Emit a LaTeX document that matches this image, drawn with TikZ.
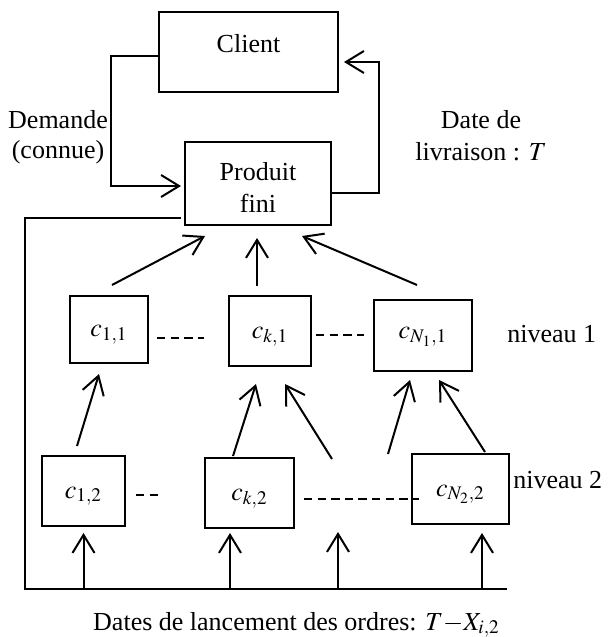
\documentclass[tikz,border=0pt]{standalone}
\usepackage{mathptmx}
\usepackage[no-math]{fontspec}
\setmainfont{Liberation Serif}
\usetikzlibrary{calc, arrows.meta}

\tikzset{
	box/.style = {draw, line width = 1pt, inner sep = 0pt},
	cbox/.style = {box, text height = 8pt, text depth = 1pt},
	arr/.style = {-{Straight Barb[length = 9pt, width = 11pt]}, line width = 1pt},
	dashline/.style = {line width = 1pt, dash pattern = on 4.2pt off 2.6pt},
}

\begin{document}
\begin{tikzpicture}[x = 0.5pt, y = -0.5pt, font = \fontsize{13}{16}\selectfont]
		\useasboundingbox (0,0) rectangle (607,637);
		
		\node [box, minimum width = 89.5pt, minimum height = 40pt, text height = 9pt, text depth = 9pt] (client) at (248.5,52) {Client};
		\node [box, minimum width = 73pt, minimum height = 41.5pt, align = center] (produit) at (258,183.5) {\rule{0pt}{13pt}Produit\\fini};
		
		\node [cbox, minimum width = 39pt, minimum height = 33.5pt] (c11) at (109,329.5) {$c_{1,1}$};
		\node [cbox, minimum width = 41pt, minimum height = 35pt] (ck1) at (270,331) {$c_{k,1}$};
		\node [cbox, minimum width = 49pt, minimum height = 35.5pt, text height = 6pt, text depth = 3pt] (cN1) at (423,335.5) {$c_{N_1,1}$};
		\node [cbox, minimum width = 41.5pt, minimum height = 35pt] (c12) at (83.5,491) {$c_{1,2}$};
		\node [cbox, minimum width = 44.5pt, minimum height = 35pt] (ck2) at (249.5,493) {$c_{k,2}$};
		\node [cbox, minimum width = 48.5pt, minimum height = 35pt] (cN2) at (460.5,489) {$c_{N_2,2}$};
		
		\node [anchor = base west, inner sep = 0pt] (niveau1) at (507,342) {niveau 1};
		\node [anchor = base west, inner sep = 0pt] (niveau2) at (513,488) {niveau 2};
		\node [align = center, inner sep = 0pt] (demande) at (58,137) {Demande\\[-1pt](connue)};
		\node [align = center, inner sep = 0pt] (livraison) at (481,136) {Date de\\livraison : $T$};
		\node [anchor = base, inner sep = 0pt] (lancement) at (296.5,630) {Dates de lancement des ordres: $T{-}X_{i,2}$};
		
		\coordinate (bus left) at (25,589);
		\coordinate (bus right) at (507,589);
		\coordinate (free1) at (332,459);
		\coordinate (free2) at (388,454);
		\coordinate (tip1) at ($(c12.south)+(0,6)$);
		\coordinate (tip2) at ($(ck2.south)+(-19.5,4)$);
		\coordinate (tip3) at (338,532);
		\coordinate (tip4) at ($(cN2.south)+(21.5,8)$);
		
		% client <-> produit fini
		\draw [arr] ($(client.west)+(0,4)$) -- ++(-47,0) |- ($(produit.west)+(-3,2.5)$);
		\draw [arr] ($(produit.east)+(0,9.5)$) -- ++(47,0) |- ($(client.east)+(5,10)$);
		\draw [line width = 1pt] ($(produit.south west)+(-3,-8)$) -| (bus left) -- (bus right);
		
		% niveau 1
		\draw [arr] ($(c11.north)+(3,-10)$) -- ($(produit.south)+(-53,10)$);
		\draw [arr] ($(ck1.north)+(-13,-9)$) -- ($(produit.south)+(-1,12)$);
		\draw [arr] ($(cN1.north)+(-6,-14)$) -- ($(produit.south)+(44,10)$);
		\draw [dashline] ($(c11.east)+(8,8.5)$) -- ($(ck1.west)+(-24,7)$);
		\draw [dashline] ($(ck1.east)+(4,4)$) -- ($(cN1.west)+(-9,-0.5)$);
		
		% niveau 2
		\draw [arr] ($(c12.north)+(-6.5,-9)$) -- ($(c11.south)+(-10,10)$);
		\draw [arr] ($(ck2.north)+(-16.5,-1)$) -- ($(ck1.south)+(-14,17)$);
		\draw [arr] (free1) -- ($(ck1.south)+(15,17)$);
		\draw [arr] (free2) -- ($(cN1.south)+(-13,8)$);
		\draw [arr] ($(cN2.north)+(24.5,-1)$) -- ($(cN1.south)+(16,8)$);
		\draw [dashline] ($(c12.east)+(10,4)$) -- ++(22,0);
		\draw [dashline] ($(ck2.east)+(9,6)$) -- ($(cN2.west)+(8,10)$);
		
		% ordres
		\draw [arr] (tip1 |- bus left) -- (tip1);
		\draw [arr] (tip2 |- bus left) -- (tip2);
		\draw [arr] (tip3 |- bus left) -- (tip3);
		\draw [arr] (tip4 |- bus left) -- (tip4);
	\end{tikzpicture}
\end{document}
